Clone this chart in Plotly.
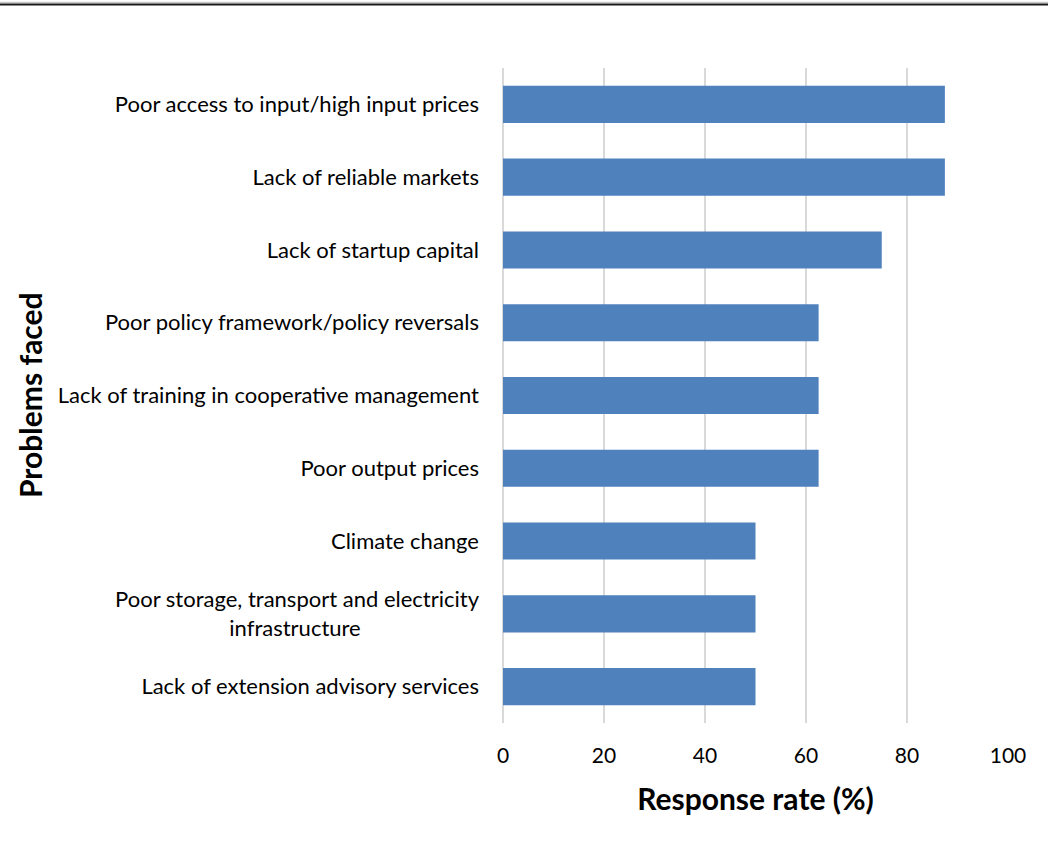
import plotly.graph_objects as go

categories = [
    "Poor access to input/high input prices",
    "Lack of reliable markets",
    "Lack of startup capital",
    "Poor policy framework/policy reversals",
    "Lack of training in cooperative management",
    "Poor output prices",
    "Climate change",
    "Poor storage, transport and electricity<br>infrastructure" + "&nbsp;" * 21,
    "Lack of extension advisory services",
]
values = [87.5, 87.5, 75, 62.5, 62.5, 62.5, 50, 50, 50]
x_ticks = [0, 20, 40, 60, 80, 100]
y_title = "Problems faced"
x_title = "Response rate (%)"

W, H = 1048, 841
L, R, T, B = 503, 40, 68, 118
pw, ph = W - L - R, H - T - B

fig = go.Figure(go.Bar(
    y=categories, x=values, orientation="h",
    marker=dict(color="#4f81bd", line=dict(width=0)),
))

fig.update_layout(
    width=W, height=H,
    margin=dict(l=L, r=R, t=T, b=B, autoexpand=False),
    paper_bgcolor="white", plot_bgcolor="white",
    bargap=0.49,
    showlegend=False,
    font=dict(family="Lato, 'Open Sans', sans-serif", color="#000000", size=22),
    xaxis=dict(
        range=[0, 100], tickvals=x_ticks, ticktext=[str(v) for v in x_ticks],
        showgrid=True, gridcolor="#d9d9d9", gridwidth=1.5,
        zeroline=True, zerolinecolor="#d9d9d9", zerolinewidth=1.5,
        showline=False, ticks="", ticklabelstandoff=18,
        tickfont=dict(size=21),
        title=dict(text="<b>" + x_title + "</b>", font=dict(size=30), standoff=22),
        automargin=False,
    ),
    yaxis=dict(
        categoryorder="array", categoryarray=categories[::-1],
        showgrid=False, showline=False, ticks="", ticklabelstandoff=23,
        tickfont=dict(size=22),
        automargin=False,
    ),
)

def px_to_paper_x(px):
    return (px - L) / pw

def px_to_paper_y(py):
    return (H - B - py) / ph

fig.add_annotation(text="<b>" + y_title + "</b>", textangle=-90,
                   xref="paper", yref="paper",
                   x=px_to_paper_x(30), y=px_to_paper_y(395),
                   xanchor="center", yanchor="middle", showarrow=False,
                   font=dict(size=30, color="#000000"))

fig.add_shape(type="line", xref="paper", yref="paper",
              x0=px_to_paper_x(0), x1=px_to_paper_x(W),
              y0=px_to_paper_y(2.5), y1=px_to_paper_y(2.5),
              line=dict(color="#c8c8c8", width=1.5))
fig.add_shape(type="line", xref="paper", yref="paper",
              x0=px_to_paper_x(0), x1=px_to_paper_x(W),
              y0=px_to_paper_y(4.5), y1=px_to_paper_y(4.5),
              line=dict(color="#1a1a1a", width=1.8))

fig.write_html("out.html",
               config={"displayModeBar": False},
               post_script="document.body.style.margin='0';document.body.style.overflow='hidden';")
